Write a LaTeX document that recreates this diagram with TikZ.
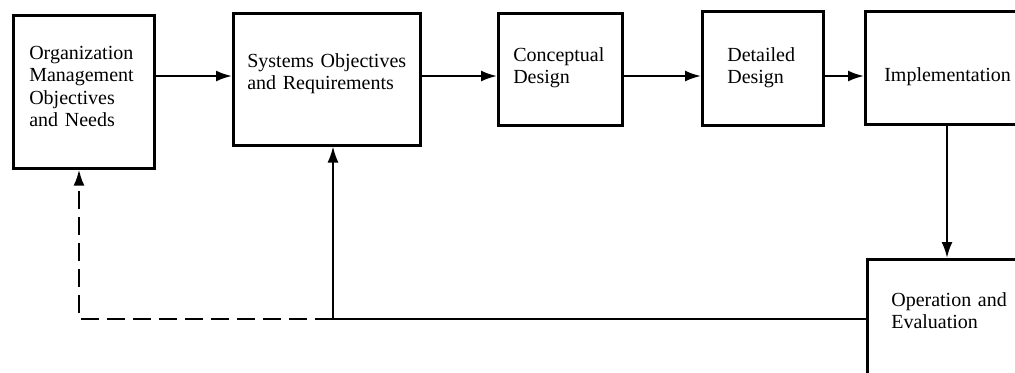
\documentclass[tikz,border=0pt]{standalone}
\usepackage{fontspec}
\setmainfont{Liberation Serif}
\usetikzlibrary{arrows.meta}

\begin{document}
\begin{tikzpicture}[x=0.5pt, y=-0.5pt,
  >={Latex[length=8pt,width=5.5pt]},
  box/.style={draw, line width=1.3pt, anchor=north west, align=left,
    inner ysep=0pt, inner xsep=8pt, font=\fontsize{10}{11.25}\selectfont},
  flow/.style={->, line width=1.1pt}]
\path[use as bounding box, clip] (0,0) rectangle (1015,372);

\node[box, text width=54.5pt, text height=22pt, text depth=54.5pt] (org) at (12,14)
  {Organization\\Management\\Objectives\\and Needs};
\node[box, inner xsep=7pt, text width=79.5pt, text height=27pt, text depth=39pt] (sys) at (232,12)
  {Systems Objectives\\and Requirements};
\node[box, inner xsep=7.5pt, text width=47pt, text height=24pt, text depth=32pt] (con) at (497,12)
  {Conceptual\\Design};
\node[box, inner xsep=12.5pt, text width=35.5pt, text height=25pt, text depth=32pt] (det) at (701,10)
  {Detailed\\Design};
\node[box, inner xsep=9.5pt, text width=81pt, text height=35pt, text depth=21.5pt] (imp) at (864,10)
  {Implementation};
\node[box, inner xsep=12pt, text width=76pt, text height=23.5pt, text depth=57.5pt] (ope) at (866,258)
  {Operation and\\Evaluation};

\coordinate (row) at (0,76);
\draw[flow] (org.east |- row) -- (sys.west |- row);
\draw[flow] (sys.east |- row) -- (con.west |- row);
\draw[flow] (con.east |- row) -- (det.west |- row);
\draw[flow] (det.east |- row) -- (imp.west |- row);

\coordinate (drop) at (947,0);
\draw[flow] (imp.south -| drop) -- (ope.north -| drop);

\coordinate (back) at (333,319);
\coordinate (corner) at (79,319);
\draw[->, line width=0.8pt] (ope.west |- back) -- (back) -- (sys.south -| back);
\draw[->, line width=1.2pt, dash pattern=on 9pt off 4pt] (back) -- (corner) -- (org.south -| corner);
\end{tikzpicture}
\end{document}
